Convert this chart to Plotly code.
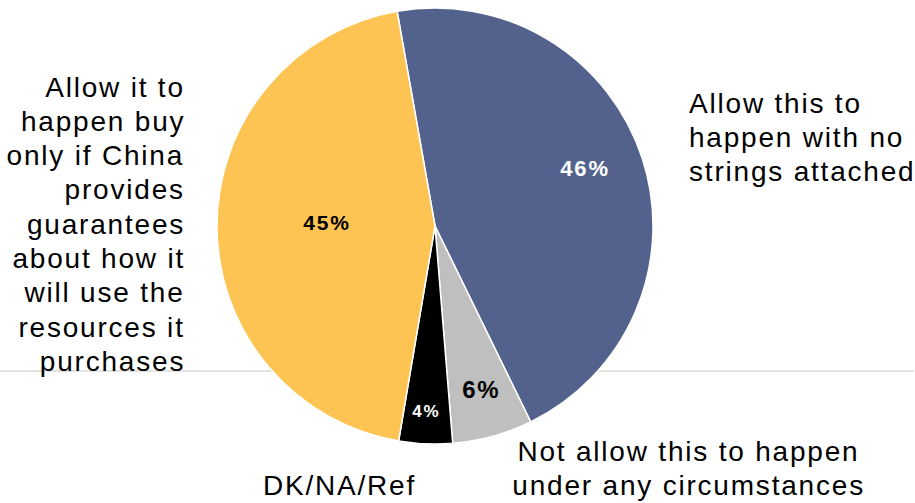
import plotly.graph_objects as go

labels = ["Allow this to happen with no strings attached",
          "Not allow this to happen under any circumstances",
          "DK/NA/Ref",
          "Allow it to happen buy only if China provides guarantees about how it will use the resources it purchases"]
values = [46, 6, 4, 45]
pct_text = ["46%", "6%", "4%", "45%"]
colors = ["#53628D", "#BFBFBF", "#000000", "#FDC453"]

W, H = 915, 503
FONT = "Liberation Sans, Arial, sans-serif"

def px(x):
    return x / W

def py(y):
    return 1 - y / H

fig = go.Figure(go.Pie(
    labels=labels, values=values, sort=False, direction="clockwise",
    rotation=-10,
    marker=dict(colors=colors, line=dict(color="white", width=1.5)),
    textinfo="none", hoverinfo="skip", showlegend=False,
    domain=dict(x=[px(216), px(654)], y=[py(444), py(8)]),
))

annotations = []
# slice percentage labels
pct_pos = [(585, 169, "white", 22), (482, 389, "black", 24), (426, 411, "white", 17), (327, 222, "black", 21)]
for t, (x, y, c, s) in zip(pct_text, pct_pos):
    annotations.append(dict(x=px(x), y=py(y), xref="paper", yref="paper", text="<b>%s</b>" % t,
                            showarrow=False, font=dict(family=FONT, size=s, color=c),
                            xanchor="center", yanchor="middle", align="center"))

LS = 34.3
# category labels
left_lines = ["Allow it to", "happen buy", "only if China", "provides", "guarantees",
              "about how it", "will use the", "resources it", "purchases"]
for i, line in enumerate(left_lines):
    annotations.append(dict(x=px(187), y=py(87 + i * LS), xref="paper", yref="paper", text=line,
                            showarrow=False, font=dict(family=FONT, size=28, color="black"),
                            xanchor="right", yanchor="middle", align="right"))
right_lines = ["Allow this to", "happen with no", "strings attached"]
for i, line in enumerate(right_lines):
    annotations.append(dict(x=px(687), y=py(103 + i * LS), xref="paper", yref="paper", text=line,
                            showarrow=False, font=dict(family=FONT, size=28, color="black"),
                            xanchor="left", yanchor="middle", align="left"))
bottom_lines = ["Not allow this to happen", "under any circumstances"]
for i, line in enumerate(bottom_lines):
    annotations.append(dict(x=px(688), y=py(451 + i * LS), xref="paper", yref="paper", text=line,
                            showarrow=False, font=dict(family=FONT, size=28, color="black"),
                            xanchor="center", yanchor="middle", align="center"))
annotations.append(dict(x=px(339), y=py(485), xref="paper", yref="paper", text="DK/NA/Ref",
                        showarrow=False, font=dict(family=FONT, size=28, color="black"),
                        xanchor="center", yanchor="middle", align="center"))

fig.update_layout(
    width=W, height=H, margin=dict(l=0, r=0, t=0, b=0),
    paper_bgcolor="white", plot_bgcolor="white",
    annotations=annotations,
    shapes=[dict(type="line", xref="paper", yref="paper", x0=0, x1=px(914), y0=py(371), y1=py(371),
                 line=dict(color="#C8C8C8", width=1.2), layer="below")],
)

post = """
document.body.style.margin='0';
document.body.style.overflow='hidden';
document.querySelectorAll('text.annotation-text').forEach(function(t){
  t.style.letterSpacing='1.8px';
});
"""
fig.write_html("out.html", post_script=post, config={"displayModeBar": False})
